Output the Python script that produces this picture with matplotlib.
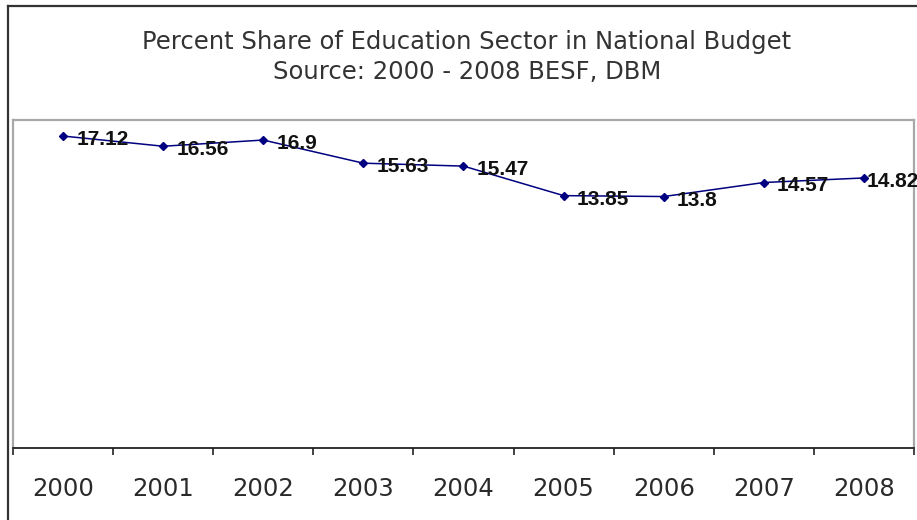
import matplotlib
matplotlib.use("Agg")
import matplotlib.pyplot as plt
from matplotlib.lines import Line2D

plt.rcParams['font.family'] = ['DejaVu Sans']

# data
years = ["2000", "2001", "2002", "2003", "2004", "2005", "2006", "2007", "2008"]
share = [17.12, 16.56, 16.9, 15.63, 15.47, 13.85, 13.8, 14.57, 14.82]

W, H = 917, 520
fig = plt.figure(figsize=(W / 100, H / 100), dpi=100)
ax = fig.add_axes([13 / W, (H - 448) / H, (914 - 13) / W, (448 - 120) / H])

x = list(range(len(years)))
ax.plot(x, share, color="#000080", lw=1.1, marker="D", markersize=4.5)

for xi, v in zip(x, share):
    # the last label sits tight against the marker so it stays inside the frame
    dx = 2 if xi == x[-1] else 9.5
    ax.annotate(f"{v:g}", (xi, v), xytext=(dx, -2.5), textcoords="offset points",
                ha="left", va="center", fontsize=15, fontweight="bold",
                family="Liberation Sans", color="#111111", annotation_clip=False)

ax.set_xlim(-0.5, len(years) - 0.5)
ax.set_ylim(0, 18)
ax.set_yticks([])

# labels in the middle of each category, ticks on the boundaries
ax.set_xticks(x)
ax.set_xticklabels(years, fontsize=17.5, color="#2a2a2a")
ax.set_xticks([i - 0.5 for i in range(len(years) + 1)], minor=True)
ax.tick_params(axis="x", which="major", length=0, pad=21)
ax.tick_params(axis="x", which="minor", length=5, width=1.2, color="#222222")

for side in ["left", "top", "right"]:
    ax.spines[side].set_color("#a8a8a8")
    ax.spines[side].set_linewidth(1.6)
ax.spines["bottom"].set_color("#222222")
ax.spines["bottom"].set_linewidth(1.3)

fig.text(0.509, 1 - 42 / H, "Percent Share of Education Sector in National Budget",
         ha="center", va="center", fontsize=17.5, color="#333333")
fig.text(0.509, 1 - 72 / H, "Source: 2000 - 2008 BESF, DBM",
         ha="center", va="center", fontsize=17.5, color="#333333")

# outer chart frame (cropped at right and bottom)
fig.add_artist(Line2D([8 / W, 8 / W], [0, 1 - 6 / H], transform=fig.transFigure,
                      color="#333333", lw=1.6))
fig.add_artist(Line2D([8 / W, 1], [1 - 6 / H, 1 - 6 / H], transform=fig.transFigure,
                      color="#333333", lw=1.6))

fig.savefig("out.png", dpi=100)
